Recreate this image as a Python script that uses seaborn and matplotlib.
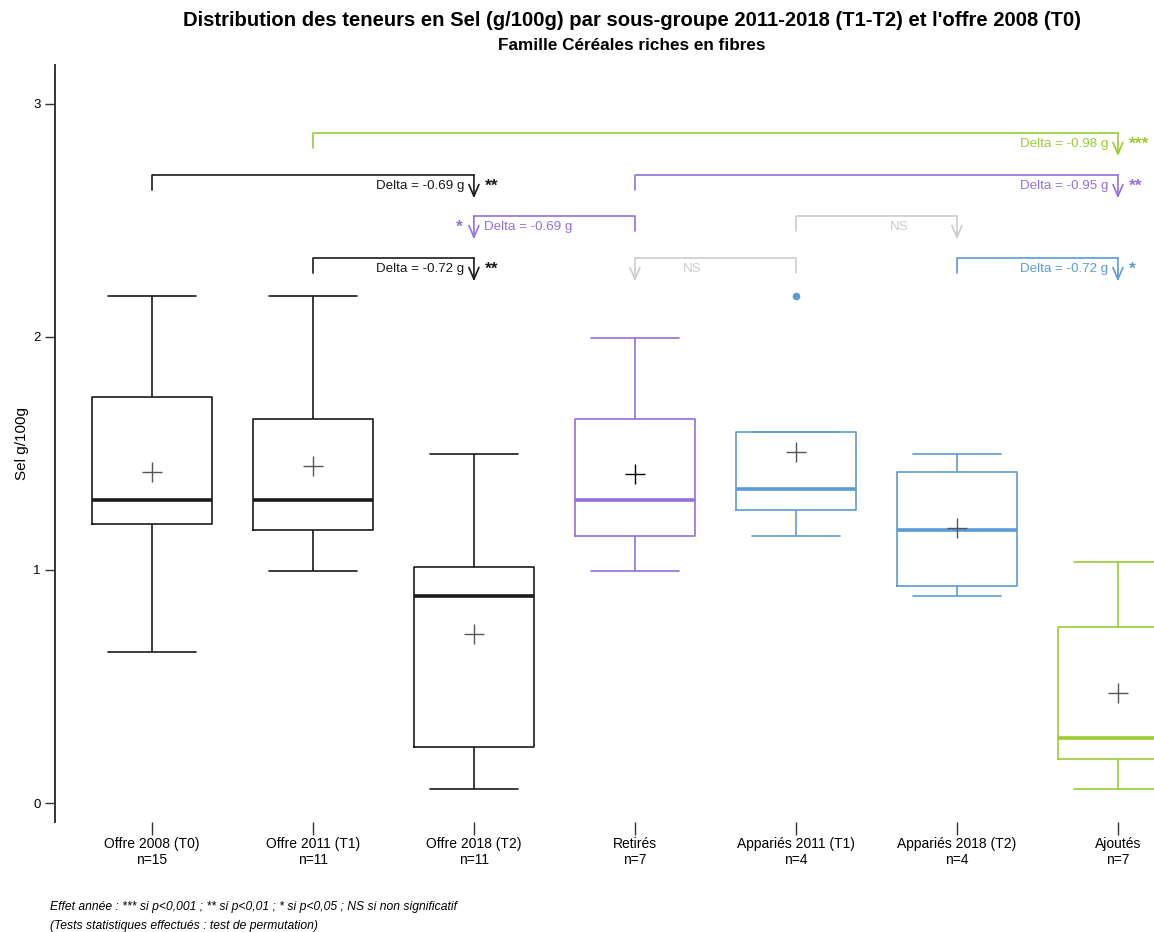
import numpy as np
import pandas as pd
import matplotlib
matplotlib.use("Agg")
import matplotlib.pyplot as plt
import seaborn as sns

# groups and five-number summaries (min, Q1, median, Q3, max)
groups = ["Offre 2008 (T0)", "Offre 2011 (T1)", "Offre 2018 (T2)", "Retirés",
          "Appariés 2011 (T1)", "Appariés 2018 (T2)", "Ajoutés"]
counts = [15, 11, 11, 7, 4, 4, 7]
low = [0.648, 0.996, 0.060, 0.996, 1.146, 0.888, 0.060]
q1 = [1.197, 1.172, 0.240, 1.146, 1.258, 0.931, 0.189]
median = [1.300, 1.300, 0.888, 1.300, 1.348, 1.172, 0.279]
q3 = [1.742, 1.648, 1.013, 1.648, 1.592, 1.420, 0.755]
high = [2.176, 2.176, 1.498, 1.996, 2.176, 1.498, 1.034]  # Appariés 2011: 2.176 is an outlier
means = [1.420, 1.446, 0.725, 1.412, 1.506, 1.180, 0.472]

BLACK = "#1a1a1a"
PURPLE = "#9370DB"
BLUE = "#5B9BD5"
GREEN = "#9ACD32"
GREY = "#cccccc"
group_colors = [BLACK, BLACK, BLACK, PURPLE, BLUE, BLUE, GREEN]
mean_colors = ["#555555", "#555555", "#555555", "#000000", "#555555", "#555555", "#555555"]

# comparisons: from group index -> arrow group index
cmp_start = [1, 0, 3, 3, 4, 1, 4, 5]
cmp_end = [6, 2, 6, 2, 5, 2, 3, 6]
cmp_level = [2.876, 2.695, 2.695, 2.519, 2.519, 2.339, 2.339, 2.339]
cmp_label = ["Delta = -0.98 g", "Delta = -0.69 g", "Delta = -0.95 g", "Delta = -0.69 g",
             "NS", "Delta = -0.72 g", "NS", "Delta = -0.72 g"]
cmp_stars = ["***", "**", "**", "*", "", "**", "", "*"]
cmp_color = [GREEN, BLACK, PURPLE, PURPLE, GREY, BLACK, GREY, BLUE]

rows = []
for g, a, b, c, d, e in zip(groups, low, q1, median, q3, high):
    for v in (a, b, c, d, e):
        rows.append({"group": g, "value": v})
df = pd.DataFrame(rows)

sns.set_theme(style="white")
plt.rcParams["font.family"] = ["Liberation Sans", "DejaVu Sans"]
plt.rcParams["text.color"] = "black"
plt.rcParams["axes.labelcolor"] = "black"
plt.rcParams["xtick.color"] = "#333333"
plt.rcParams["ytick.color"] = "#333333"
plt.rcParams["xtick.labelcolor"] = "black"
plt.rcParams["ytick.labelcolor"] = "black"

fig = plt.figure(figsize=(11.54, 9.32), dpi=100)
ax = fig.add_axes([55 / 1154, 1 - 822 / 932, 1099 / 1154, 757 / 932])

sns.boxplot(data=df, x="group", y="value", hue="group", order=groups,
            hue_order=groups, palette=dict(zip(groups, group_colors)),
            fill=False, width=0.75, linewidth=1.2, legend=False,
            medianprops={"linewidth": 2.6},
            flierprops={"marker": "o", "markersize": 4.5},
            capwidths=0.55, ax=ax)

# filled outlier markers
for line in ax.lines:
    if line.get_marker() == "o":
        line.set_markerfacecolor(line.get_markeredgecolor())

pos = np.arange(len(groups))
for x, m, c in zip(pos, means, mean_colors):
    ax.plot(x, m, marker="+", markersize=14, mew=1.0, color=c, linestyle="none", zorder=5)

# comparison brackets
for s, e, lev, lab, st, col in zip(cmp_start, cmp_end, cmp_level, cmp_label, cmp_stars, cmp_color):
    ax.plot([s, s, e], [lev - 0.066, lev, lev], color=col, lw=1.2, clip_on=False)
    ax.annotate("", xy=(e, lev - 0.1), xytext=(e, lev),
                arrowprops=dict(arrowstyle="->,head_length=0.7,head_width=0.3",
                                color=col, lw=1.2, shrinkA=0, shrinkB=0))
    d = 1 if e > s else -1
    off = 0.3 if lab == "NS" else 0.06
    ty = lev - 0.048
    ax.text(e - d * off, ty, lab, color=col, fontsize=9.6,
            ha="right" if d > 0 else "left", va="center")
    if st:
        ax.text(e + d * 0.07, ty, st, color=col, fontsize=12.5, fontweight="bold",
                ha="left" if d > 0 else "right", va="center")

ax.set_xlim(-0.602, 6.224)
ax.set_ylim(-0.0815, 3.167)
ax.set_yticks([0, 1, 2, 3])
ax.set_xticks(pos)
ax.set_xticklabels([f"{g}\nn={n}" for g, n in zip(groups, counts)], fontsize=10,
                   linespacing=1.12)
ax.set_xlabel("")
ax.set_ylabel("Sel g/100g", fontsize=11, labelpad=3)
ax.tick_params(axis="y", left=True, length=7, width=1, labelsize=9.5)
ax.tick_params(axis="x", bottom=True, length=9, width=1, pad=2)
for side in ["top", "right", "bottom"]:
    ax.spines[side].set_visible(False)
ax.spines["left"].set_color("#333333")
ax.spines["left"].set_linewidth(1.4)

fig.text(632 / 1154, 1 - 20 / 932, "Distribution des teneurs en Sel (g/100g) par sous-groupe "
         "2011-2018 (T1-T2) et l'offre 2008 (T0)", ha="center", va="center",
         fontsize=14.6, fontweight="bold")
fig.text(632 / 1154, 1 - 46 / 932, "Famille Céréales riches en fibres", ha="center",
         va="center", fontsize=12.3, fontweight="bold")
fig.text(50 / 1154, 1 - 907 / 932, "Effet année : *** si p<0,001 ; ** si p<0,01 ; * si p<0,05 ; "
         "NS si non significatif", fontsize=8.7, style="italic", va="center")
fig.text(50 / 1154, 1 - 926 / 932, "(Tests statistiques effectués : test de permutation)",
         fontsize=8.7, style="italic", va="center")

fig.savefig("out.png", dpi=100)
